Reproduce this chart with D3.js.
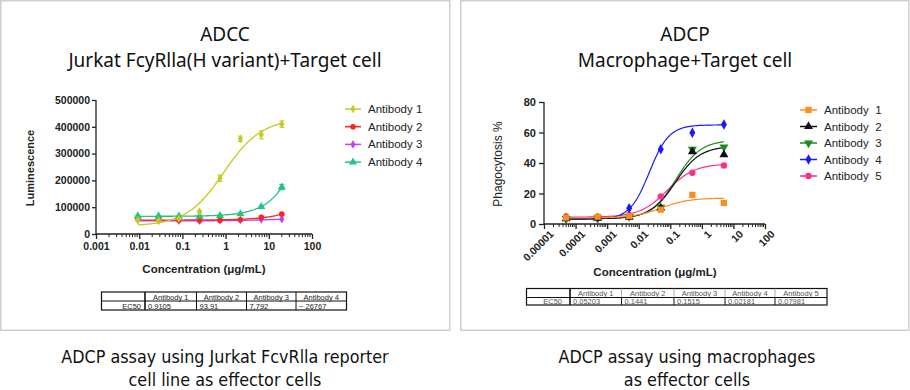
<!DOCTYPE html>
<html><head><meta charset="utf-8">
<script src="https://cdn.jsdelivr.net/npm/d3@7/dist/d3.min.js"></script>
<style>
body{margin:0;background:#fff;}
svg{display:block;}
.ax text{font-family:"Liberation Sans",Arial,sans-serif;font-weight:bold;fill:#222;}
</style></head><body>
<svg id="c" width="910" height="390"></svg>
<script>
// ---------- ADCC (left) data ----------
const adccConc = [0.0093, 0.028, 0.083, 0.25, 0.74, 2.2, 6.7, 20];
const adccNames = ["Antibody 1", "Antibody 2", "Antibody 3", "Antibody 4"];
const adccAb1 = [52000, 50000, 57000, 84000, 208000, 355000, 370000, 410000];
const adccAb2 = [57000, 55000, 51000, 50000, 51000, 53000, 62000, 74000];
const adccAb3 = [52000, 50000, 50000, 50000, 51000, 52000, 54000, 55000];
const adccAb4 = [67000, 67000, 66000, 66000, 68000, 75000, 102000, 175000];
const adccErr1 = [4000, 3000, 4000, 3000, 12000, 10000, 15000, 12000];
const adccErr4 = [3000, 2000, 2000, 2000, 2000, 3000, 4000, 10000];
// 4PL fit parameters: bottom, top, EC50, hill
const adccBottom = [30000, 52000, 49000, 66000];
const adccTop = [430000, 177000, 57000, 146000000];
const adccEC50 = [0.9105, 93.91, 7.792, 26767];
const adccHill = [1.0, 1.0, 1.0, 1.0];
const adccColors = ["#c8c81e", "#ff2222", "#b446ff", "#22c482"];
const adccEC50Labels = ["0.9105", "93.91", "7.792", "~ 26767"];
const adccYTicks = [0, 100000, 200000, 300000, 400000, 500000];
const adccXTicks = [0.001, 0.01, 0.1, 1, 10, 100];

// ---------- ADCP (right) data ----------
const adcpConc = [0.00005, 0.0005, 0.005, 0.05, 0.5, 5];
const adcpNames = ["Antibody  1", "Antibody  2", "Antibody  3", "Antibody  4", "Antibody  5"];
const adcpAb1 = [4.2, 4.8, 5.3, 9.4, 19.1, 13.8];
const adcpAb2 = [3.5, 3.8, 4.5, 10.5, 47.5, 45.4];
const adcpAb3 = [3.6, 3.9, 4.8, 11.0, 49.0, 50.5];
const adcpAb4 = [3.5, 3.8, 10.3, 49.0, 59.8, 65.3];
const adcpAb5 = [5.0, 4.6, 6.0, 18.0, 33.6, 38.4];
const adcpBottom = [4.0, 3.5, 3.5, 3.0, 4.5];
const adcpTop = [17.0, 51.0, 55.0, 65.0, 39.5];
const adcpEC50 = [0.05203, 0.1441, 0.1515, 0.02181, 0.07981];
const adcpHill = [1.0, 1.1, 1.1, 1.4, 1.0];
const adcpColors = ["#ff8c1a", "#111111", "#1e8c1e", "#1a1aff", "#ff2d8c"];
const adcpEC50Labels = ["0.05203", "0.1441", "0.1515", "0.02181", "0.07981"];
const adcpYTicks = [0, 20, 40, 60, 80];
const adcpXTicks = [0.00001, 0.0001, 0.001, 0.01, 0.1, 1, 10, 100];

const svg = d3.select("#c");
const FONT = '"Liberation Sans",Arial,sans-serif';

// panels
svg.append("rect").attr("x",0.75).attr("y",0.75).attr("width",449).attr("height",329.5)
  .attr("fill","none").attr("stroke","#cfcfcf").attr("stroke-width",1.5);
svg.append("rect").attr("x",460.75).attr("y",0.75).attr("width",448).attr("height",329.5)
  .attr("fill","none").attr("stroke","#cfcfcf").attr("stroke-width",1.5);

function title(cx, l1, l2){
  const g = svg.append("g").attr("font-family",'"Noto Sans","Open Sans",sans-serif')
    .attr("font-size",19).attr("fill","#111").attr("text-anchor","middle");
  g.append("text").attr("x",cx).attr("y",41).text(l1);
  g.append("text").attr("x",cx).attr("y",67).text(l2);
}
title(225, "ADCC", "Jurkat FcyRlla(H variant)+Target cell");
title(685, "ADCP", "Macrophage+Target cell");

function caption(cx, l1, l2){
  const g = svg.append("g").attr("font-family",'"Liberation Sans Narrow","DejaVu Sans Condensed",sans-serif')
    .attr("font-size",17.8).attr("fill","#111").attr("text-anchor","middle");
  g.append("text").attr("x",cx).attr("y",363).text(l1);
  g.append("text").attr("x",cx).attr("y",386).text(l2);
}
caption(225, "ADCP assay using Jurkat FcvRlla reporter", "cell line as effector cells");
caption(687, "ADCP assay using macrophages", "as effector cells");

function fourPL(x, b, t, ec, h){ return b + (t-b)/(1+Math.pow(ec/x, h)); }

function marker(g, shape, x, y, color, s){
  if(shape==="circle"){
    g.append("circle").attr("cx",x).attr("cy",y).attr("r",s).attr("fill",color);
  } else {
    let sym;
    if(shape==="diamond") sym = d3.symbol().type(d3.symbolDiamond).size(s*s*4);
    else if(shape==="square") sym = d3.symbol().type(d3.symbolSquare).size(s*s*3.6);
    else sym = d3.symbol().type(d3.symbolTriangle).size(s*s*3.4);
    g.append("path").attr("d",sym()).attr("fill",color)
      .attr("transform",`translate(${x},${y})` + (shape==="tridown"?" rotate(180)":""));
  }
}

function minorTicks(g, x, dom, y0){
  const lo = Math.log10(dom[0]), hi = Math.log10(dom[1]);
  for(let e=lo; e<hi; e++){
    for(let m=2;m<=9;m++){
      const v = m*Math.pow(10,e);
      g.append("line").attr("x1",x(v)).attr("x2",x(v)).attr("y1",y0).attr("y2",y0+3)
        .attr("stroke","#222").attr("stroke-width",1);
    }
  }
}

// ================= LEFT CHART =================
{
  const x = d3.scaleLog().domain([0.001,100]).range([96,312]);
  const y = d3.scaleLinear().domain([0,500000]).range([234,100]);
  const g = svg.append("g");
  const yAx = g.append("g").attr("class","ax").attr("transform","translate(96,0)")
    .call(d3.axisLeft(y).tickValues(adccYTicks).tickFormat(d3.format("d")).tickSize(4).tickPadding(2));
  yAx.selectAll("text").attr("font-size",10.5);
  yAx.selectAll("line,path").attr("stroke","#222").attr("stroke-width",1.3);
  yAx.select("path").attr("d","M0,234V100");
  const xAx = g.append("g").attr("class","ax").attr("transform","translate(0,234)")
    .call(d3.axisBottom(x).tickValues(adccXTicks).tickFormat(d=>String(d)).tickSize(5).tickPadding(4));
  xAx.selectAll("text").attr("font-size",10.5);
  xAx.selectAll("line,path").attr("stroke","#222").attr("stroke-width",1.3);
  xAx.select("path").attr("d","M96,0H312");
  minorTicks(g, x, [0.001,100], 234);

  g.append("text").attr("transform","translate(34,168) rotate(-90)").attr("text-anchor","middle")
    .attr("font-family",FONT).attr("font-weight","bold").attr("font-size",11).attr("fill","#222").text("Luminescence");
  g.append("text").attr("x",204).attr("y",273).attr("text-anchor","middle")
    .attr("font-family",FONT).attr("font-weight","bold").attr("font-size",11.5).attr("fill","#222").text("Concentration (μg/mL)");

  const series = [adccAb1, adccAb2, adccAb3, adccAb4];
  const shapes = ["diamond","circle","diamond","triangle"];
  const sizes = [2.3, 2.8, 2.3, 2.9];
  const errs = [adccErr1, null, null, adccErr4];
  const order = [2,1,3,0];
  const line = d3.line().x(d=>x(d[0])).y(d=>y(d[1]));
  order.forEach(i=>{
    const lo = Math.log10(adccConc[0]), hi = Math.log10(adccConc[adccConc.length-1]);
    const pts = d3.range(0,101).map(k=>{const xv=Math.pow(10, lo+(hi-lo)*k/100); return [xv, fourPL(xv, adccBottom[i], adccTop[i], adccEC50[i], adccHill[i])];});
    g.append("path").attr("d",line(pts)).attr("fill","none").attr("stroke",adccColors[i]).attr("stroke-width",1.3);
  });
  order.forEach(i=>{
    series[i].forEach((v,j)=>{
      if(errs[i]){
        const e = errs[i][j], xx = x(adccConc[j]);
        g.append("path").attr("d",`M${xx},${y(v-e)}V${y(v+e)}M${xx-2.5},${y(v-e)}H${xx+2.5}M${xx-2.5},${y(v+e)}H${xx+2.5}`)
          .attr("stroke",adccColors[i]).attr("stroke-width",1).attr("fill","none");
      }
      marker(g, shapes[i], x(adccConc[j]), y(v), adccColors[i], sizes[i]);
    });
  });

  // legend
  adccNames.forEach((n,i)=>{
    const ly = 109 + i*17.7;
    g.append("line").attr("x1",345).attr("x2",361).attr("y1",ly).attr("y2",ly).attr("stroke",adccColors[i]).attr("stroke-width",1.5);
    marker(g, shapes[i], 353, ly, adccColors[i], sizes[i]);
    g.append("text").attr("x",368).attr("y",ly+4).attr("font-family",FONT).attr("font-size",11.5).attr("fill","#222").text(n);
  });

  // table
  const tx = [101.5, 145, 196.5, 246.5, 296, 346.5];
  const ty = [292, 301, 310];
  const t = g.append("g");
  t.append("rect").attr("x",tx[0]).attr("y",ty[0]).attr("width",tx[5]-tx[0]).attr("height",ty[2]-ty[0])
    .attr("fill","none").attr("stroke","#111").attr("stroke-width",1.2);
  t.append("line").attr("x1",tx[0]).attr("x2",tx[5]).attr("y1",ty[1]).attr("y2",ty[1]).attr("stroke","#111").attr("stroke-width",1.2);
  tx.slice(1,5).forEach((xx,k)=>t.append("line").attr("x1",xx).attr("x2",xx).attr("y1",ty[0]).attr("y2",ty[2])
    .attr("stroke","#111").attr("stroke-width",k===0?1.6:1));
  adccNames.forEach((n,i)=>t.append("text").attr("x",(tx[i+1]+tx[i+2])/2).attr("y",ty[0]+7.5).attr("text-anchor","middle")
    .attr("font-family",FONT).attr("font-size",7.5).attr("fill","#222").text(n));
  t.append("text").attr("x",tx[1]-4).attr("y",ty[1]+7.5).attr("text-anchor","end").attr("font-family",FONT).attr("font-size",7.5).attr("fill","#222").text("EC50");
  adccEC50Labels.forEach((s,i)=>t.append("text").attr("x",tx[i+1]+3).attr("y",ty[1]+7.5)
    .attr("font-family",FONT).attr("font-size",7.5).attr("fill","#222").text(s));
}

// ================= RIGHT CHART =================
{
  const x = d3.scaleLog().domain([0.00001,100]).range([544,765]);
  const y = d3.scaleLinear().domain([0,80]).range([224,102]);
  const g = svg.append("g");
  const yAx = g.append("g").attr("class","ax").attr("transform","translate(544,0)")
    .call(d3.axisLeft(y).tickValues(adcpYTicks).tickSize(5).tickPadding(3));
  yAx.selectAll("text").attr("font-size",11);
  yAx.selectAll("line,path").attr("stroke","#222").attr("stroke-width",1.3);
  yAx.select("path").attr("d","M0,224V102");
  const xAx = g.append("g").attr("class","ax").attr("transform","translate(0,224)")
    .call(d3.axisBottom(x).tickValues(adcpXTicks).tickFormat(d=>{
      const e = Math.round(Math.log10(d)); return e<0 ? d.toFixed(-e) : String(Math.round(d));}).tickSize(5));
  xAx.selectAll("line,path").attr("stroke","#222").attr("stroke-width",1.3);
  xAx.select("path").attr("d","M544,0H765");
  xAx.selectAll("text").attr("font-size",10.5).attr("text-anchor","end")
    .attr("transform","translate(3,4) rotate(-45)").attr("dy","0.35em").attr("y",6).attr("x",0);
  minorTicks(g, x, [0.00001,100], 224);

  g.append("text").attr("transform","translate(502,164) rotate(-90)").attr("text-anchor","middle")
    .attr("font-family",FONT).attr("font-size",12).attr("fill","#222").text("Phagocytosis %");
  g.append("text").attr("x",655).attr("y",276).attr("text-anchor","middle")
    .attr("font-family",FONT).attr("font-weight","bold").attr("font-size",11.5).attr("fill","#222").text("Concentration (μg/mL)");

  const series = [adcpAb1, adcpAb2, adcpAb3, adcpAb4, adcpAb5];
  const shapes = ["square","triangle","tridown","diamond","circle"];
  const sizes = [3.3, 3.2, 3.2, 2.8, 3.2];
  const line = d3.line().x(d=>x(d[0])).y(d=>y(d[1]));
  const order = [4,3,2,1,0];
  order.forEach(i=>{
    const lo = Math.log10(adcpConc[0]), hi = Math.log10(adcpConc[adcpConc.length-1]);
    const pts = d3.range(0,121).map(k=>{const xv=Math.pow(10, lo+(hi-lo)*k/120); return [xv, fourPL(xv, adcpBottom[i], adcpTop[i], adcpEC50[i], adcpHill[i])];});
    g.append("path").attr("d",line(pts)).attr("fill","none").attr("stroke",adcpColors[i]).attr("stroke-width",1.2);
  });
  order.forEach(i=>{
    series[i].forEach((v,j)=>marker(g, shapes[i], x(adcpConc[j]), y(v), adcpColors[i], sizes[i]));
  });

  adcpNames.forEach((n,i)=>{
    const ly = 110 + i*16.5;
    g.append("line").attr("x1",800).attr("x2",817).attr("y1",ly).attr("y2",ly).attr("stroke",adcpColors[i]).attr("stroke-width",1.5);
    marker(g, shapes[i], 808.5, ly, adcpColors[i], sizes[i]);
    g.append("text").attr("x",824).attr("y",ly+4).attr("font-family",FONT).attr("font-size",11.5).attr("fill","#222")
      .style("white-space","pre").text(n);
  });

  const tx = [526.5, 570, 621.5, 674, 725, 775, 827];
  const ty = [288.5, 297.5, 305];
  const t = g.append("g");
  t.append("rect").attr("x",tx[0]).attr("y",ty[0]).attr("width",tx[6]-tx[0]).attr("height",ty[2]-ty[0])
    .attr("fill","none").attr("stroke","#111").attr("stroke-width",1.2);
  t.append("line").attr("x1",tx[0]).attr("x2",tx[6]).attr("y1",ty[1]).attr("y2",ty[1]).attr("stroke","#111").attr("stroke-width",1.2);
  tx.slice(1,6).forEach((xx,k)=>t.append("line").attr("x1",xx).attr("x2",xx).attr("y1",k===0?ty[0]:ty[1]).attr("y2",ty[2])
    .attr("stroke","#111").attr("stroke-width",k===0?1.6:1));
  tx.slice(2,6).forEach(xx=>t.append("line").attr("x1",xx).attr("x2",xx).attr("y1",ty[0]).attr("y2",ty[1]).attr("stroke","#999").attr("stroke-width",0.8));
  adcpNames.forEach((n,i)=>t.append("text").attr("x",(tx[i+1]+tx[i+2])/2).attr("y",ty[0]+7).attr("text-anchor","middle")
    .attr("font-family",FONT).attr("font-size",7.5).attr("fill","#555").text(n.replace("  "," ")));
  t.append("text").attr("x",tx[1]-8).attr("y",ty[1]+6.5).attr("text-anchor","end").attr("font-family",FONT).attr("font-size",7.5).attr("fill","#555").text("EC50");
  adcpEC50Labels.forEach((s,i)=>t.append("text").attr("x",tx[i+1]+3).attr("y",ty[1]+6.5)
    .attr("font-family",FONT).attr("font-size",7.5).attr("fill","#555").text(s));
}
</script>
</body></html>
